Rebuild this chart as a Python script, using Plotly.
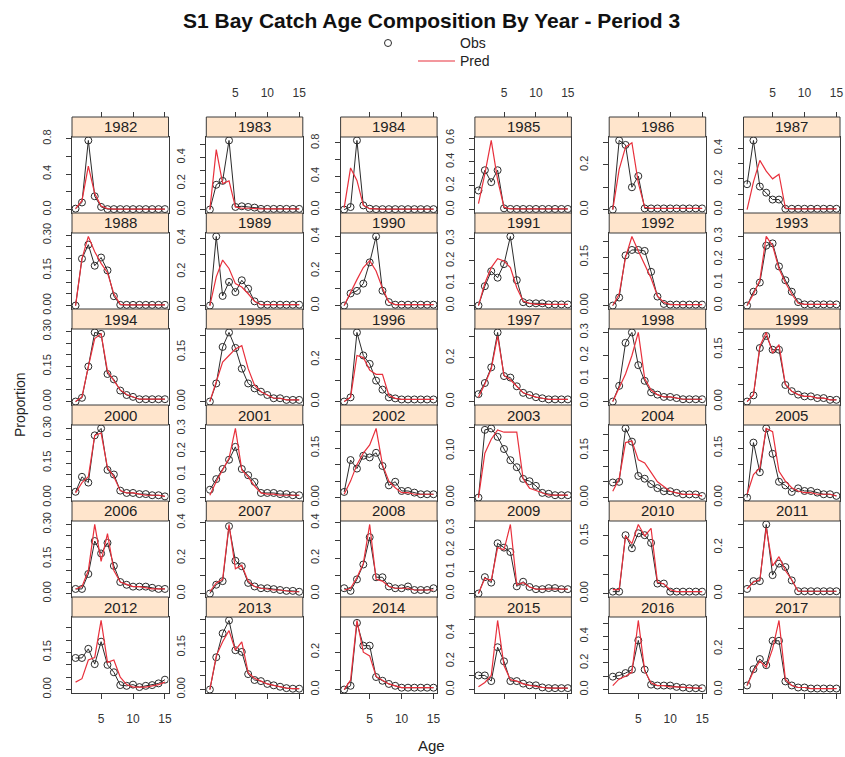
import plotly.graph_objects as go

ages = list(range(1, 16))
years = list(range(1982, 2018))

# observed proportions at age, one row per year (1982..2017)
obs = [
    [0.01, 0.08, 0.78, 0.15, 0.03, 0.005, 0.005, 0.005, 0.005, 0.005, 0.005, 0.005, 0.005, 0.005, 0.005],  # 1982
    [0.0, 0.19, 0.22, 0.53, 0.02, 0.025, 0.02, 0.015, 0.005, 0.005, 0.005, 0.005, 0.005, 0.005, 0.005],  # 1983
    [0.0, 0.03, 0.83, 0.05, 0.01, 0.005, 0.005, 0.005, 0.005, 0.005, 0.005, 0.005, 0.005, 0.005, 0.005],  # 1984
    [0.16, 0.33, 0.23, 0.33, 0.01, 0.005, 0.005, 0.005, 0.005, 0.005, 0.005, 0.005, 0.005, 0.005, 0.005],  # 1985
    [0.0, 0.31, 0.29, 0.1, 0.15, 0.005, 0.005, 0.005, 0.005, 0.005, 0.005, 0.005, 0.005, 0.005, 0.005],  # 1986
    [0.165, 0.45, 0.15, 0.11, 0.065, 0.065, 0.005, 0.005, 0.005, 0.005, 0.005, 0.005, 0.005, 0.005, 0.005],  # 1987
    [0.0, 0.2, 0.26, 0.17, 0.205, 0.15, 0.04, 0.003, 0.003, 0.003, 0.003, 0.003, 0.003, 0.003, 0.003],  # 1988
    [0.0, 0.41, 0.057, 0.14, 0.08, 0.15, 0.1, 0.025, 0.005, 0.005, 0.005, 0.005, 0.005, 0.005, 0.005],  # 1989
    [0.0, 0.07, 0.085, 0.127, 0.25, 0.4, 0.086, 0.02, 0.005, 0.005, 0.005, 0.005, 0.005, 0.005, 0.005],  # 1990
    [0.0, 0.087, 0.154, 0.125, 0.186, 0.31, 0.114, 0.015, 0.01, 0.01, 0.01, 0.005, 0.005, 0.005, 0.005],  # 1991
    [0.0, 0.025, 0.156, 0.173, 0.173, 0.17, 0.105, 0.028, 0.005, 0.003, 0.003, 0.003, 0.003, 0.003, 0.003],  # 1992
    [0.0, 0.06, 0.1, 0.26, 0.27, 0.17, 0.11, 0.06, 0.015, 0.005, 0.005, 0.005, 0.005, 0.005, 0.005],  # 1993
    [0.0, 0.016, 0.15, 0.296, 0.29, 0.118, 0.095, 0.047, 0.028, 0.02, 0.01, 0.01, 0.01, 0.01, 0.01],  # 1994
    [0.0, 0.055, 0.166, 0.21, 0.163, 0.1, 0.055, 0.04, 0.03, 0.02, 0.01, 0.01, 0.005, 0.005, 0.005],  # 1995
    [0.0, 0.02, 0.33, 0.22, 0.18, 0.1, 0.057, 0.02, 0.015, 0.01, 0.01, 0.01, 0.01, 0.01, 0.01],  # 1996
    [0.034, 0.085, 0.157, 0.317, 0.117, 0.11, 0.07, 0.04, 0.03, 0.02, 0.015, 0.01, 0.01, 0.01, 0.01],  # 1997
    [0.0, 0.068, 0.255, 0.3, 0.158, 0.09, 0.04, 0.03, 0.02, 0.02, 0.015, 0.01, 0.01, 0.01, 0.01],  # 1998
    [0.0, 0.018, 0.155, 0.19, 0.15, 0.15, 0.048, 0.03, 0.02, 0.015, 0.015, 0.01, 0.01, 0.005, 0.005],  # 1999
    [0.025, 0.09, 0.065, 0.27, 0.3, 0.12, 0.1, 0.03, 0.02, 0.02, 0.015, 0.015, 0.01, 0.01, 0.005],  # 2000
    [0.034, 0.08, 0.124, 0.164, 0.22, 0.124, 0.097, 0.068, 0.02, 0.02, 0.02, 0.015, 0.015, 0.01, 0.01],  # 2001
    [0.017, 0.114, 0.088, 0.127, 0.122, 0.136, 0.096, 0.037, 0.048, 0.02, 0.02, 0.015, 0.01, 0.01, 0.01],  # 2002
    [0.0, 0.145, 0.148, 0.13, 0.104, 0.08, 0.065, 0.04, 0.035, 0.025, 0.01, 0.008, 0.005, 0.005, 0.005],  # 2003
    [0.048, 0.05, 0.22, 0.178, 0.069, 0.06, 0.043, 0.03, 0.02, 0.02, 0.015, 0.01, 0.01, 0.01, 0.005],  # 2004
    [0.0, 0.167, 0.077, 0.21, 0.133, 0.048, 0.037, 0.017, 0.028, 0.02, 0.02, 0.015, 0.01, 0.01, 0.005],  # 2005
    [0.02, 0.02, 0.085, 0.228, 0.174, 0.22, 0.12, 0.05, 0.038, 0.03, 0.03, 0.03, 0.025, 0.02, 0.02],  # 2006
    [0.0, 0.05, 0.07, 0.38, 0.185, 0.154, 0.06, 0.04, 0.03, 0.03, 0.025, 0.02, 0.015, 0.015, 0.01],  # 2007
    [0.03, 0.015, 0.08, 0.164, 0.318, 0.092, 0.092, 0.04, 0.03, 0.03, 0.04, 0.02, 0.02, 0.02, 0.03],  # 2008
    [0.0, 0.075, 0.05, 0.23, 0.21, 0.19, 0.033, 0.054, 0.03, 0.02, 0.02, 0.025, 0.025, 0.02, 0.02],  # 2009
    [0.005, 0.005, 0.152, 0.118, 0.157, 0.152, 0.132, 0.026, 0.026, 0.005, 0.005, 0.005, 0.005, 0.005, 0.005],  # 2010
    [0.02, 0.054, 0.054, 0.3, 0.08, 0.13, 0.115, 0.057, 0.01, 0.01, 0.01, 0.01, 0.01, 0.01, 0.01],  # 2011
    [0.128, 0.128, 0.165, 0.103, 0.194, 0.1, 0.07, 0.018, 0.015, 0.02, 0.01, 0.015, 0.018, 0.025, 0.04],  # 2012
    [0.0, 0.115, 0.2, 0.246, 0.14, 0.134, 0.055, 0.034, 0.03, 0.02, 0.015, 0.01, 0.005, 0.003, 0.003],  # 2013
    [0.0, 0.02, 0.357, 0.235, 0.235, 0.067, 0.047, 0.03, 0.02, 0.01, 0.01, 0.01, 0.01, 0.01, 0.01],  # 2014
    [0.1, 0.1, 0.06, 0.3, 0.2, 0.06, 0.06, 0.042, 0.03, 0.03, 0.015, 0.01, 0.01, 0.01, 0.01],  # 2015
    [0.097, 0.105, 0.124, 0.15, 0.37, 0.15, 0.037, 0.03, 0.03, 0.03, 0.02, 0.015, 0.01, 0.01, 0.01],  # 2016
    [0.02, 0.1, 0.15, 0.12, 0.24, 0.24, 0.04, 0.02, 0.01, 0.01, 0.005, 0.005, 0.005, 0.005, 0.005],  # 2017
]

# predicted proportions at age
pred = [
    [0.01, 0.1, 0.49, 0.18, 0.04, 0.01, 0.005, 0.005, 0.005, 0.005, 0.005, 0.005, 0.005, 0.005, 0.005],  # 1982
    [0.0, 0.46, 0.2, 0.22, 0.02, 0.01, 0.01, 0.005, 0.005, 0.005, 0.005, 0.005, 0.005, 0.005, 0.005],  # 1983
    [0.02, 0.5, 0.35, 0.05, 0.01, 0.005, 0.005, 0.005, 0.005, 0.005, 0.005, 0.005, 0.005, 0.005, 0.005],  # 1984
    [0.05, 0.3, 0.58, 0.25, 0.02, 0.005, 0.005, 0.005, 0.005, 0.005, 0.005, 0.005, 0.005, 0.005, 0.005],  # 1985
    [0.0, 0.18, 0.28, 0.3, 0.12, 0.01, 0.005, 0.005, 0.005, 0.005, 0.005, 0.005, 0.005, 0.005, 0.005],  # 1986
    [0.0, 0.18, 0.32, 0.25, 0.2, 0.23, 0.01, 0.005, 0.005, 0.005, 0.005, 0.005, 0.005, 0.005, 0.005],  # 1987
    [0.0, 0.2, 0.295, 0.23, 0.18, 0.14, 0.05, 0.005, 0.003, 0.003, 0.003, 0.003, 0.003, 0.003, 0.003],  # 1988
    [0.0, 0.17, 0.27, 0.22, 0.13, 0.11, 0.07, 0.025, 0.005, 0.005, 0.005, 0.005, 0.005, 0.005, 0.005],  # 1989
    [0.0, 0.08, 0.15, 0.22, 0.26, 0.2, 0.1, 0.02, 0.005, 0.005, 0.005, 0.005, 0.005, 0.005, 0.005],  # 1990
    [0.0, 0.1, 0.17, 0.21, 0.2, 0.17, 0.08, 0.02, 0.01, 0.005, 0.005, 0.005, 0.005, 0.005, 0.005],  # 1991
    [0.0, 0.035, 0.15, 0.215, 0.17, 0.13, 0.085, 0.03, 0.01, 0.003, 0.003, 0.003, 0.003, 0.003, 0.003],  # 1992
    [0.0, 0.05, 0.11, 0.3, 0.26, 0.16, 0.1, 0.05, 0.01, 0.005, 0.005, 0.005, 0.005, 0.005, 0.005],  # 1993
    [0.0, 0.02, 0.15, 0.27, 0.29, 0.13, 0.09, 0.05, 0.03, 0.02, 0.01, 0.01, 0.01, 0.01, 0.01],  # 1994
    [0.0, 0.06, 0.12, 0.14, 0.16, 0.17, 0.1, 0.05, 0.03, 0.02, 0.01, 0.01, 0.005, 0.005, 0.005],  # 1995
    [0.0, 0.02, 0.22, 0.21, 0.15, 0.13, 0.13, 0.03, 0.015, 0.01, 0.01, 0.01, 0.01, 0.01, 0.01],  # 1996
    [0.02, 0.08, 0.15, 0.3, 0.12, 0.1, 0.07, 0.04, 0.03, 0.02, 0.015, 0.01, 0.01, 0.01, 0.01],  # 1997
    [0.0, 0.06, 0.12, 0.2, 0.3, 0.1, 0.05, 0.03, 0.02, 0.02, 0.015, 0.01, 0.01, 0.01, 0.01],  # 1998
    [0.0, 0.02, 0.16, 0.2, 0.14, 0.165, 0.05, 0.03, 0.02, 0.015, 0.015, 0.01, 0.01, 0.005, 0.005],  # 1999
    [0.02, 0.065, 0.09, 0.27, 0.28, 0.13, 0.09, 0.03, 0.02, 0.02, 0.015, 0.01, 0.01, 0.01, 0.005],  # 2000
    [0.01, 0.07, 0.12, 0.17, 0.3, 0.12, 0.09, 0.05, 0.02, 0.015, 0.015, 0.01, 0.01, 0.01, 0.01],  # 2001
    [0.01, 0.05, 0.1, 0.135, 0.16, 0.21, 0.1, 0.05, 0.03, 0.015, 0.015, 0.01, 0.01, 0.01, 0.01],  # 2002
    [0.0, 0.095, 0.125, 0.145, 0.14, 0.14, 0.14, 0.04, 0.02, 0.015, 0.01, 0.005, 0.005, 0.005, 0.005],  # 2003
    [0.02, 0.06, 0.175, 0.18, 0.12, 0.11, 0.08, 0.05, 0.035, 0.02, 0.015, 0.01, 0.01, 0.01, 0.005],  # 2004
    [0.01, 0.07, 0.09, 0.21, 0.2, 0.08, 0.05, 0.03, 0.02, 0.015, 0.015, 0.01, 0.01, 0.01, 0.005],  # 2005
    [0.02, 0.03, 0.1, 0.3, 0.14, 0.26, 0.1, 0.05, 0.04, 0.03, 0.03, 0.025, 0.02, 0.02, 0.02],  # 2006
    [0.01, 0.06, 0.08, 0.39, 0.14, 0.16, 0.07, 0.04, 0.03, 0.025, 0.02, 0.02, 0.015, 0.01, 0.01],  # 2007
    [0.02, 0.03, 0.09, 0.17, 0.39, 0.08, 0.07, 0.04, 0.03, 0.03, 0.03, 0.02, 0.02, 0.02, 0.02],  # 2008
    [0.0, 0.07, 0.06, 0.21, 0.2, 0.316, 0.04, 0.05, 0.03, 0.02, 0.02, 0.02, 0.02, 0.02, 0.02],  # 2009
    [0.01, 0.01, 0.15, 0.13, 0.18, 0.15, 0.17, 0.03, 0.025, 0.01, 0.005, 0.005, 0.005, 0.005, 0.005],  # 2010
    [0.02, 0.05, 0.06, 0.285, 0.12, 0.16, 0.1, 0.06, 0.01, 0.01, 0.01, 0.01, 0.01, 0.01, 0.01],  # 2011
    [0.03, 0.044, 0.12, 0.13, 0.28, 0.11, 0.12, 0.05, 0.02, 0.01, 0.01, 0.01, 0.015, 0.02, 0.03],  # 2012
    [0.0, 0.12, 0.17, 0.21, 0.14, 0.17, 0.06, 0.04, 0.03, 0.02, 0.015, 0.01, 0.005, 0.003, 0.003],  # 2013
    [0.0, 0.05, 0.37, 0.2, 0.18, 0.07, 0.05, 0.03, 0.02, 0.01, 0.01, 0.01, 0.01, 0.01, 0.01],  # 2014
    [0.02, 0.05, 0.1, 0.49, 0.17, 0.07, 0.06, 0.04, 0.03, 0.02, 0.015, 0.01, 0.01, 0.01, 0.01],  # 2015
    [0.03, 0.08, 0.1, 0.13, 0.52, 0.14, 0.05, 0.03, 0.03, 0.02, 0.02, 0.015, 0.01, 0.01, 0.01],  # 2016
    [0.02, 0.09, 0.14, 0.11, 0.2, 0.34, 0.05, 0.02, 0.01, 0.01, 0.005, 0.005, 0.005, 0.005, 0.005],  # 2017
]

# y-axis label step, minor tick step and label decimals per panel
y_label_step = [0.4, 0.2, 0.4, 0.2, 0.2, 0.2,
                0.15, 0.2, 0.2, 0.1, 0.15, 0.1,
                0.15, 0.15, 0.2, 0.2, 0.1, 0.15,
                0.15, 0.1, 0.15, 0.1, 0.15, 0.15,
                0.15, 0.2, 0.2, 0.1, 0.15, 0.2,
                0.15, 0.15, 0.2, 0.2, 0.2, 0.2]
y_minor_step = [0.2, 0.1, 0.2, 0.1, 0.1, 0.1,
                0.05, 0.1, 0.1, None, 0.05, None,
                0.05, 0.05, 0.1, 0.1, None, 0.05,
                0.05, None, 0.05, 0.05, 0.05, 0.05,
                0.05, 0.1, 0.1, None, 0.05, 0.1,
                0.05, 0.05, 0.1, 0.1, 0.1, 0.1]
y_label_decimals = [1, 1, 1, 1, 1, 1,
                    2, 1, 1, 1, 2, 1,
                    2, 2, 1, 1, 1, 2,
                    2, 1, 2, 2, 2, 2,
                    2, 1, 1, 1, 2, 1,
                    2, 2, 1, 1, 1, 1]
x_tick_vals = [5, 10, 15]

W, H = 845, 757
FONT = "Liberation Sans, Arial, Helvetica, sans-serif"
AX_COL = "#3a3a3a"
OBS_COL = "#2b2b2b"
PRED_COL = "#e8303c"
STRIP_FILL = "#ffe5cc"

COL_X0, COL_PITCH, PANEL_W = 72.0, 134.3, 96.5
ROW_Y0, ROW_H, STRIP_H = 117.0, 96.0, 20.0
X_RANGE = [0.44, 15.56]


def xdom(c):
    x0 = COL_X0 + COL_PITCH * c
    return [x0 / W, (x0 + PANEL_W) / W]


def ydom(r):
    top = ROW_Y0 + ROW_H * r + STRIP_H
    bot = ROW_Y0 + ROW_H * (r + 1)
    return [1 - bot / H, 1 - top / H]


fig = go.Figure()
layout = {}
shapes = []
annotations = []

for i, yr in enumerate(years):
    r, c = divmod(i, 6)
    n = i + 1
    xs = "x" if n == 1 else f"x{n}"
    ys = "y" if n == 1 else f"y{n}"
    xa = "xaxis" if n == 1 else f"xaxis{n}"
    ya = "yaxis" if n == 1 else f"yaxis{n}"

    fig.add_trace(go.Scatter(x=ages, y=obs[i], xaxis=xs, yaxis=ys, mode="lines+markers",
                             line=dict(color=OBS_COL, width=1),
                             marker=dict(symbol="circle-open", size=7, color=OBS_COL,
                                         line=dict(width=1, color=OBS_COL)),
                             hoverinfo="skip", showlegend=False))
    fig.add_trace(go.Scatter(x=ages, y=pred[i], xaxis=xs, yaxis=ys, mode="lines",
                             line=dict(color=PRED_COL, width=1.2),
                             hoverinfo="skip", showlegend=False))

    vals = obs[i] + pred[i]
    lo, hi = min(0.0, min(vals)), max(vals)
    pad = (hi - lo) * 0.05
    fmt = f".{y_label_decimals[i]}f"
    yax = dict(domain=ydom(r), anchor=xs, range=[lo - pad, hi + pad],
               showline=True, linecolor=AX_COL, linewidth=1, mirror=True,
               showgrid=False, zeroline=False,
               ticks="outside", ticklen=5, tickcolor=AX_COL, tickwidth=1,
               tick0=0, dtick=y_label_step[i], tickformat=fmt, tickangle=-90,
               ticklabelstandoff=11,
               tickfont=dict(size=11, color="#333", family=FONT))
    if y_minor_step[i]:
        yax["minor"] = dict(tick0=0, dtick=y_minor_step[i], ticks="outside",
                            ticklen=5, tickcolor=AX_COL, tickwidth=1, showgrid=False)
    layout[ya] = yax

    bottom = (r == 5)
    layout[xa] = dict(domain=xdom(c), anchor=ys, range=X_RANGE,
                      showline=True, linecolor=AX_COL, linewidth=1, mirror=True,
                      showgrid=False, zeroline=False,
                      tickvals=x_tick_vals, ticks="outside" if bottom else "",
                      ticklen=5, tickcolor=AX_COL, ticklabelstandoff=10,
                      showticklabels=bottom and (c % 2 == 0),
                      tickfont=dict(size=12, color="#333", family=FONT))

    # strip
    st = ROW_Y0 + ROW_H * r
    shapes.append(dict(type="rect", xref="paper", yref="paper",
                       x0=xdom(c)[0], x1=xdom(c)[1], y0=1 - (st + STRIP_H) / H, y1=1 - st / H,
                       fillcolor=STRIP_FILL, line=dict(color=AX_COL, width=1)))
    annotations.append(dict(text=str(yr), xref="paper", yref="paper",
                            x=(xdom(c)[0] + xdom(c)[1]) / 2, y=1 - (st + STRIP_H / 2) / H,
                            showarrow=False, xanchor="center", yanchor="middle",
                            font=dict(size=15, color="#222", family=FONT)))

# top axes above first-row strips
for c in range(6):
    n = 37 + c
    base = "x" if c == 0 else f"x{c + 1}"
    ybase = "y" if c == 0 else f"y{c + 1}"
    fig.add_trace(go.Scatter(x=ages, y=obs[c], xaxis=f"x{n}", yaxis=ybase, mode="lines",
                             opacity=0, hoverinfo="skip", showlegend=False))
    layout[f"xaxis{n}"] = dict(domain=xdom(c), overlaying=base, anchor="free",
                               position=1 - ROW_Y0 / H, side="top", range=X_RANGE,
                               showline=False, showgrid=False, zeroline=False,
                               tickvals=x_tick_vals, ticks="outside", ticklen=5,
                               tickcolor=AX_COL, showticklabels=(c % 2 == 1),
                               ticklabelstandoff=10,
                               tickfont=dict(size=12, color="#333", family=FONT))

# title and legend
annotations.append(dict(text="<b>S1 Bay Catch Age Composition By Year - Period 3</b>",
                        xref="paper", yref="paper", x=431 / W, y=1 - 20 / H,
                        showarrow=False, xanchor="center", yanchor="middle",
                        font=dict(size=21, color="#111", family=FONT)))
shapes.append(dict(type="circle", xref="paper", yref="paper",
                   x0=(388 - 3.5) / W, x1=(388 + 3.5) / W, y0=1 - (43 + 3.5) / H, y1=1 - (43 - 3.5) / H,
                   line=dict(color=OBS_COL, width=1)))
shapes.append(dict(type="line", xref="paper", yref="paper",
                   x0=418 / W, x1=455 / W, y0=1 - 61 / H, y1=1 - 61 / H,
                   line=dict(color=PRED_COL, width=1.2)))
for txt, yy in (("Obs", 43), ("Pred", 61)):
    annotations.append(dict(text=txt, xref="paper", yref="paper", x=458 / W, y=1 - yy / H,
                            showarrow=False, xanchor="left", yanchor="middle",
                            font=dict(size=14, color="#222", family=FONT)))
annotations.append(dict(text="Proportion", xref="paper", yref="paper", x=20 / W, y=1 - 405 / H,
                        showarrow=False, textangle=-90, xanchor="center", yanchor="middle",
                        font=dict(size=14, color="#222", family=FONT)))
annotations.append(dict(text="Age", xref="paper", yref="paper", x=431 / W, y=1 - 745 / H,
                        showarrow=False, xanchor="center", yanchor="middle",
                        font=dict(size=15, color="#222", family=FONT)))

fig.update_layout(width=W, height=H,
                  margin=dict(l=0, r=0, t=0, b=0, pad=0, autoexpand=False),
                  paper_bgcolor="white", plot_bgcolor="white", showlegend=False,
                  shapes=shapes, annotations=annotations, **layout)

fix_page = ("document.body.style.margin='0';document.body.style.overflow='hidden';"
            "var d=document.getElementById('{plot_id}');d.style.position='absolute';"
            "d.style.left='0px';d.style.top='0px';")
fig.write_html("out.html", post_script=fix_page, config={"displayModeBar": False})
